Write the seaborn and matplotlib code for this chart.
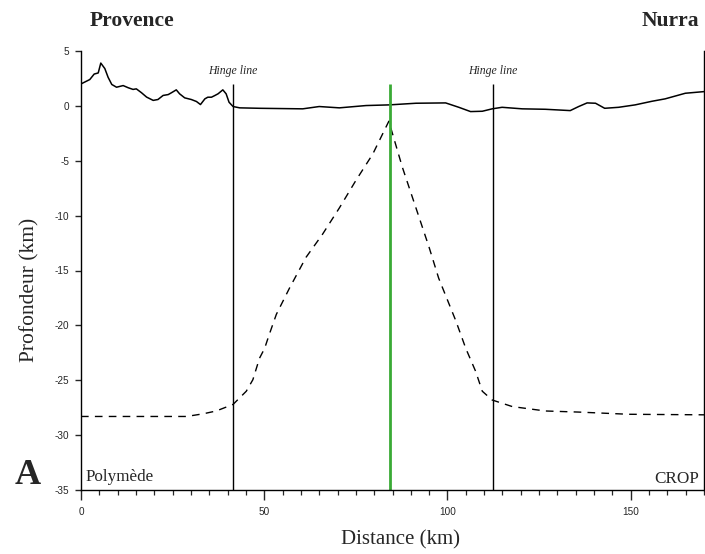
import matplotlib
matplotlib.use("Agg")
import matplotlib.pyplot as plt
import numpy as np
import pandas as pd
import seaborn as sns

# ---- data ----
topo_x = [0, 2.4, 3.6, 4.7, 5.4, 6.5, 7.4, 8.4, 9.7, 11.5, 12.9, 14.2, 15.1, 16.5, 17.9,
          19.7, 21.0, 22.4, 23.8, 24.7, 26.0, 26.9, 28.3, 30.1, 31.5, 32.6, 33.8, 34.6,
          35.6, 36.5, 37.4, 38.7, 39.6, 40.4, 41.5, 43.3, 48.7, 60.5, 65, 70.5, 77.8,
          84.1, 91.4, 99.5, 103.1, 106.3, 109.5, 112.2, 114.9, 120.4, 126.7, 133.5,
          135.8, 138.1, 140.4, 142.9, 146.7, 151.2, 155.8, 159.4, 164.9, 170]
topo_y = [2.0, 2.4, 2.9, 3.0, 3.9, 3.4, 2.6, 1.95, 1.7, 1.85, 1.65, 1.5, 1.55, 1.2, 0.8,
          0.5, 0.58, 0.95, 1.03, 1.2, 1.46, 1.1, 0.73, 0.58, 0.4, 0.12, 0.64, 0.79,
          0.79, 0.94, 1.1, 1.46, 1.1, 0.33, -0.06, -0.18, -0.22, -0.27, -0.06, -0.18, 0.03,
          0.09, 0.24, 0.27, -0.13, -0.52, -0.49, -0.27, -0.13, -0.27, -0.31, -0.43,
          -0.06, 0.27, 0.24, -0.22, -0.13, 0.09, 0.42, 0.64, 1.15, 1.3]

moho_x = [0, 28.8, 33.3, 36.9, 41.5, 45.1, 46.9, 48.7, 50.1, 51.4, 53.3, 56.9, 61.4,
          65.9, 70.5, 75.0, 79.6, 84.0, 87.7, 91.4, 95.0, 97.6, 102.3, 105.0, 107.7,
          109.5, 112.2, 117.7, 126.7, 135.8, 149.4, 170]
moho_y = [-28.3, -28.3, -28.06, -27.8, -27.2, -26.0, -24.95, -23.0, -22.1, -20.8, -19.0,
          -16.6, -13.8, -11.7, -9.3, -6.8, -4.4, -1.4, -5.6, -9.3, -12.9, -15.7, -19.6,
          -22.1, -24.2, -26.0, -26.8, -27.4, -27.8, -27.9, -28.1, -28.15]

hinge_x = [41.4, 112.4]
axis_x = 84.3
line_top = 2.0

x_major = [0, 50, 100, 150]
y_ticks = [5, 0, -5, -10, -15, -20, -25, -30, -35]
y_labels = ["5", "0", "-5", "-10", "-15", "-20", "-25", "-30", "-35"]

sns.set_style("ticks")
serif = ["Liberation Serif", "DejaVu Serif"]
tickfont = ["Liberation Sans Narrow", "Liberation Sans", "DejaVu Sans"]
plt.rcParams["font.family"] = serif

fig = plt.figure(figsize=(7.05, 5.54), dpi=100)
ax = fig.add_axes([81 / 705, 1 - 490 / 554, (704 - 81) / 705, (490 - 51) / 554])

topo = pd.DataFrame({"x": topo_x, "y": topo_y})
moho = pd.DataFrame({"x": moho_x, "y": moho_y})
sns.lineplot(data=topo, x="x", y="y", ax=ax, color="black", lw=1.1, sort=False)
sns.lineplot(data=moho, x="x", y="y", ax=ax, color="black", lw=1.0, sort=False,
             dashes=False, linestyle=(0, (5.5, 4.5)))

ax.vlines(hinge_x, -35, line_top, color="black", lw=1.0)
ax.vlines([axis_x], -35, line_top, color="#3aaa35", lw=2.0)
for hx in hinge_x:
    ax.text(hx, 3.2, "Hinge line", ha="center", va="center", style="italic",
            fontsize=8.5, family=serif)

ax.set_xlim(0, 170)
ax.set_ylim(-35, 5)
ax.set_xticks(x_major)
ax.set_xticks(np.arange(0, 171, 5), minor=True)
ax.set_yticks(y_ticks)
ax.set_yticklabels(y_labels)
for lab in ax.get_xticklabels() + ax.get_yticklabels():
    lab.set_family(tickfont)
    lab.set_fontsize(7.2)

ax.tick_params(axis="x", which="major", direction="out", length=7, width=1, pad=5)
ax.tick_params(axis="x", which="minor", direction="out", length=3.6, width=0.9)
ax.tick_params(axis="y", which="major", direction="out", length=4.3, width=1, pad=4,
               right=True)
ax.tick_params(axis="y", which="minor", left=False)

ax.spines["top"].set_visible(False)
for s in ["left", "right", "bottom"]:
    ax.spines[s].set_linewidth(1.0)
    ax.spines[s].set_color("black")
ax.set_xlabel("")
ax.set_ylabel("")

ax.text(1.2, -34.2, "Polymède", ha="left", va="baseline", fontsize=12.3, family=serif)
ax.text(168.5, -34.4, "CROP", ha="right", va="baseline", fontsize=12.3, family=serif)

fig.text(132 / 705, 1 - 21 / 554, "Provence", ha="center", va="center",
         fontsize=15.5, fontweight="bold", family=serif)
fig.text(699 / 705, 1 - 21 / 554, "Nurra", ha="right", va="center",
         fontsize=15.5, fontweight="bold", family=serif)
fig.text(28 / 705, 1 - 475 / 554, "A", ha="center", va="center",
         fontsize=26, fontweight="bold", family=serif)
fig.text(400 / 705, 1 - 540 / 554, "Distance (km)", ha="center", va="center",
         fontsize=15, family=serif)
fig.text(30 / 705, 1 - 290 / 554, "Profondeur (km)", ha="center", va="center",
         rotation=90, fontsize=15.5, family=serif)

fig.savefig("out.png", dpi=100)
